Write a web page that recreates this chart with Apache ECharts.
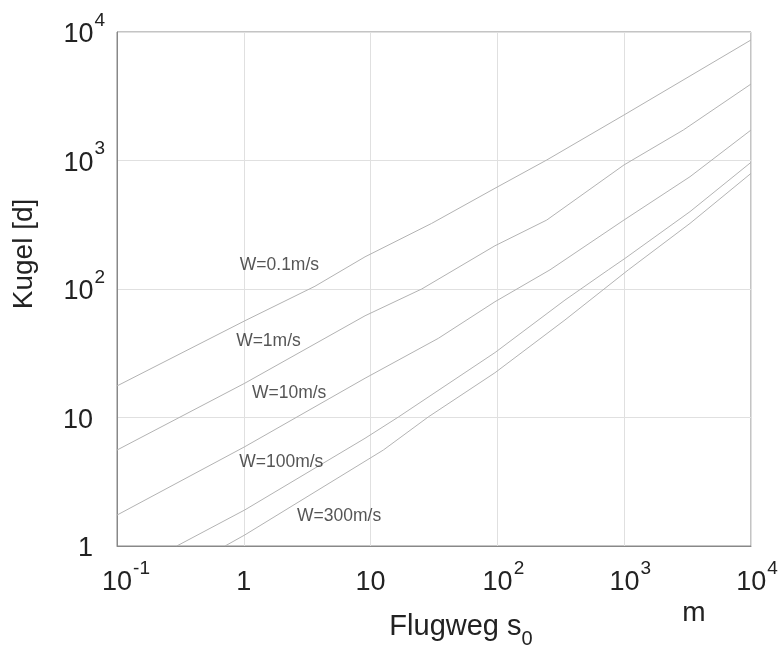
<!DOCTYPE html>
<html><head><meta charset="utf-8">
<script src="https://cdn.jsdelivr.net/npm/echarts@6/dist/echarts.min.js"></script>
<style>html,body{margin:0;padding:0;background:#fff}#c{width:784px;height:646px}</style>
</head><body><div id="c"></div>
<script>
const seriesNames = ['W=0.1m/s', 'W=1m/s', 'W=10m/s', 'W=100m/s', 'W=300m/s'];
const w01  = [[0.1,17.6],[1.02,56.6],[3.64,105],[9.04,178],[30.3,324],[95.7,608],[245,1009],[995,2259],[10000,8670]];
const w1   = [[0.1,5.58],[1.02,18.5],[9.04,61.9],[25.3,100],[95.7,217],[245,344],[995,923],[2924,1726],[10000,3936]];
const w10  = [[0.1,1.74],[1.02,5.93],[9.04,20.2],[34.2,41.3],[95.7,79.6],[260,141],[995,344],[3304,748],[10000,1726]];
const w100 = [[0.296,1],[1.02,1.91],[9.04,6.89],[16.6,10.1],[95.7,32.0],[341,82.0],[750,141],[1014,173],[3304,400],[10000,968]];
const w300 = [[0.711,1],[1.02,1.22],[12.6,5.58],[28.5,10.1],[95.7,22.3],[341,57.4],[1079,141],[3304,324],[10000,794]];
const curves = [w01, w1, w10, w100, w300];
const labelPos = [[0.93,154],[0.87,39.4],[1.16,15.4],[0.92,4.47],[2.63,1.71]];

const xTickValues = [0.1, 1, 10, 100, 1000, 10000];
const xTickBase   = ['10', '1', '10', '10', '10', '10'];
const xTickSup    = ['-1', '', '', '2', '3', '4'];
const yTickValues = [1, 10, 100, 1000, 10000];
const yTickBase   = ['1', '10', '10', '10', '10'];
const yTickSup    = ['', '', '2', '3', '4'];

function nearest(vals, v) {
  let best = 0, d = Infinity;
  for (let i = 0; i < vals.length; i++) {
    const dd = Math.abs(Math.log10(vals[i]) - Math.log10(v));
    if (dd < d) { d = dd; best = i; }
  }
  return best;
}
const FONT = 'Liberation Sans, Arial, sans-serif';
const tickRich = {
  b: { fontSize: 27, lineHeight: 48, color: '#222', fontFamily: FONT },
  s: { fontSize: 19, lineHeight: 19, color: '#222', fontFamily: FONT, verticalAlign: 'top', padding: [0, 0, 0, 1] },
  p1: { width: 12, fontSize: 19, lineHeight: 19 },
  p2: { width: 18, fontSize: 19, lineHeight: 19 }
};

const chart = echarts.init(document.getElementById('c'));
const series = curves.map((d, i) => ({
  type: 'line', name: seriesNames[i], data: d, showSymbol: false, silent: true,
  lineStyle: { color: '#b3b3b3', width: 1 }, z: 3
}));
series.push({
  type: 'scatter', silent: true, symbolSize: 0, z: 5,
  data: labelPos.map((p, i) => ({ name: seriesNames[i], value: p })),
  label: { show: true, position: 'right', distance: 0, formatter: '{b}', color: '#2a2a2a', fontSize: 17.5, fontFamily: FONT }
});

chart.setOption({
  animation: false,
  backgroundColor: '#fff',
  grid: { left: 117, right: 33, top: 32, bottom: 100, show: true, borderColor: '#888', borderWidth: 1,
          backgroundColor: 'transparent', containLabel: false, outerBoundsMode: 'none' },
  xAxis: {
    type: 'log', logBase: 10, min: 0.1, max: 10000,
    axisLine: { show: true, lineStyle: { color: '#888' } },
    axisTick: { show: false },
    splitLine: { show: true, lineStyle: { color: '#e0e0e0', width: 1 } },
    axisLabel: {
      margin: 13, showMinLabel: true, showMaxLabel: true,
      formatter: v => {
        const i = nearest(xTickValues, v);
        const s = xTickSup[i];
        return s ? `{p${s.length}| }{b|${xTickBase[i]}}{s|${s}}` : `{b|${xTickBase[i]}}`;
      },
      rich: tickRich
    },
    name: '{n|Flugweg s}{u|0}', nameLocation: 'middle', nameGap: 59,
    nameTextStyle: {
      padding: [0, 0, 0, 54],
      rich: {
        n: { fontSize: 29, lineHeight: 44, color: '#222', fontFamily: FONT },
        u: { fontSize: 20, lineHeight: 20, color: '#222', fontFamily: FONT, verticalAlign: 'bottom' }
      }
    }
  },
  yAxis: {
    type: 'log', logBase: 10, min: 1, max: 10000,
    axisLine: { show: true, lineStyle: { color: '#888' } },
    axisTick: { show: false },
    splitLine: { show: true, lineStyle: { color: '#e0e0e0', width: 1 } },
    axisLabel: {
      margin: 12, showMinLabel: true, showMaxLabel: true, padding: [6, 0, 0, 0],
      formatter: v => {
        const i = nearest(yTickValues, v);
        const s = yTickSup[i];
        return s ? `{b|${yTickBase[i]}}{s|${s}}` : `{b|${yTickBase[i]}}{p1| }`;
      },
      rich: tickRich
    }
  },
  graphic: [
    { type: 'text', x: 24, y: 254, rotation: Math.PI / 2,
      style: { text: 'Kugel [d]', fontSize: 28, fontFamily: FONT, fill: '#222', align: 'center', verticalAlign: 'middle', textAlign: 'center', textVerticalAlign: 'middle' } },
    { type: 'text', x: 694, y: 613,
      style: { text: 'm', fontSize: 28, fontFamily: FONT, fill: '#222', align: 'center', verticalAlign: 'middle', textAlign: 'center', textVerticalAlign: 'middle' } }
  ],
  series: series
});
</script>
</body></html>
